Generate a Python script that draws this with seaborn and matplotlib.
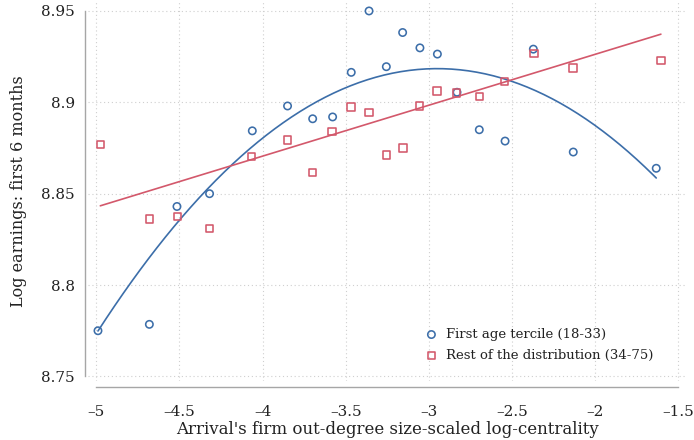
import numpy as np
import pandas as pd
import matplotlib
matplotlib.use("Agg")
import matplotlib.pyplot as plt
import seaborn as sns

# Binned means of log earnings by arrival firm's centrality
centrality_young = [-4.99, -4.681, -4.515, -4.319, -4.062, -3.850, -3.699, -3.579, -3.467, -3.360,
                    -3.256, -3.158, -3.054, -2.949, -2.831, -2.697, -2.542, -2.372, -2.132, -1.633]
earnings_young = [8.775, 8.7785, 8.843, 8.850, 8.8844, 8.898, 8.891, 8.892, 8.9164, 8.950,
                  8.9195, 8.9382, 8.9298, 8.9264, 8.9055, 8.885, 8.8788, 8.9291, 8.8728, 8.8639]

centrality_rest = [-4.976, -4.681, -4.511, -4.321, -4.066, -3.850, -3.699, -3.583, -3.469, -3.360,
                   -3.256, -3.156, -3.056, -2.951, -2.833, -2.695, -2.545, -2.368, -2.134, -1.605]
earnings_rest = [8.877, 8.8361, 8.8374, 8.8308, 8.8703, 8.8793, 8.8617, 8.8839, 8.8975, 8.8946,
                 8.8711, 8.875, 8.898, 8.9062, 8.9051, 8.9031, 8.9115, 8.9266, 8.9188, 8.9228]

# Fitted polynomials (highest power first)
fit_young = [-0.0345, -0.20355, 8.6182]   # quadratic
fit_rest = [0.02786, 8.9820]              # linear

group_labels = ["First age tercile (18-33)", "Rest of the distribution (34-75)"]
x_ticks = [-5, -4.5, -4, -3.5, -3, -2.5, -2, -1.5]
x_tick_labels = ["\u20135", "\u20134.5", "\u20134", "\u20133.5", "\u20133", "\u20132.5", "\u20132", "\u20131.5"]
y_ticks = [8.75, 8.8, 8.85, 8.9, 8.95]
y_tick_labels = ["8.75", "8.8", "8.85", "8.9", "8.95"]

BLUE = "#3c6ea9"
RED = "#d3586b"

sns.set_theme(style="white")
plt.rcParams["font.family"] = ["DejaVu Serif"]

bins = pd.DataFrame({
    "x": centrality_young + centrality_rest,
    "y": earnings_young + earnings_rest,
    "group": [group_labels[0]] * len(centrality_young) + [group_labels[1]] * len(centrality_rest),
})

xs_y = np.linspace(min(centrality_young), max(centrality_young), 200)
xs_r = np.linspace(min(centrality_rest), max(centrality_rest), 200)
fits = pd.DataFrame({
    "x": np.concatenate([xs_y, xs_r]),
    "y": np.concatenate([np.polyval(fit_young, xs_y), np.polyval(fit_rest, xs_r)]),
    "group": [group_labels[0]] * len(xs_y) + [group_labels[1]] * len(xs_r),
})

W, H = 694, 440
fig = plt.figure(figsize=(W / 100, H / 100), dpi=100)
ax = fig.add_axes([88 / W, 1 - 381 / H, (686 - 88) / W, (381 - 2) / H])

palette = {group_labels[0]: BLUE, group_labels[1]: RED}

sns.lineplot(data=fits, x="x", y="y", hue="group", palette=palette, ax=ax,
             linewidth=1.2, legend=False, sort=True)

for lab, mk in zip(group_labels, ["o", "s"]):
    d = bins[bins["group"] == lab]
    ax.scatter(d["x"], d["y"], marker=mk, s=28, facecolors="none",
               edgecolors=palette[lab], linewidths=1.15, label=lab, zorder=3)

ax.set_xlim(-5.050, -1.454)
ax.set_ylim(8.7475, 8.9549)

ax.set_xticks(x_ticks)
ax.set_xticklabels(x_tick_labels)
ax.set_yticks(y_ticks)
ax.set_yticklabels(y_tick_labels)

ax.grid(True, linestyle=(0, (1, 2.5)), color="#cfcfcf", linewidth=0.8)
ax.set_axisbelow(True)

for s in ["top", "right"]:
    ax.spines[s].set_visible(False)
ax.spines["left"].set_position(("outward", 2.2))
ax.spines["bottom"].set_position(("outward", 4.3))
ax.spines["left"].set_bounds(8.75, 8.95)
ax.spines["bottom"].set_bounds(-5, -1.5)
for s in ["left", "bottom"]:
    ax.spines[s].set_color("#a6a6a6")
    ax.spines[s].set_linewidth(1.0)

ax.tick_params(axis="both", which="major", direction="out", length=4.3, width=0.8,
               color="#a6a6a6", labelsize=11, labelcolor="#222222")
ax.tick_params(axis="x", pad=8.5)
ax.tick_params(axis="y", pad=3)

ax.set_xlabel("Arrival's firm out-degree size-scaled log-centrality", fontsize=12,
              color="#222222", labelpad=1.5)
ax.set_ylabel("Log earnings: first 6 months", fontsize=11.5, color="#222222", labelpad=10)

leg = ax.legend(loc="lower left", bbox_to_anchor=(0.55, 0.026), frameon=False,
                fontsize=9.5, handlelength=0.8, handletextpad=0.7, labelspacing=0.6,
                borderaxespad=0.3)
for t in leg.get_texts():
    t.set_color("#222222")

fig.savefig("out.png", dpi=100)
